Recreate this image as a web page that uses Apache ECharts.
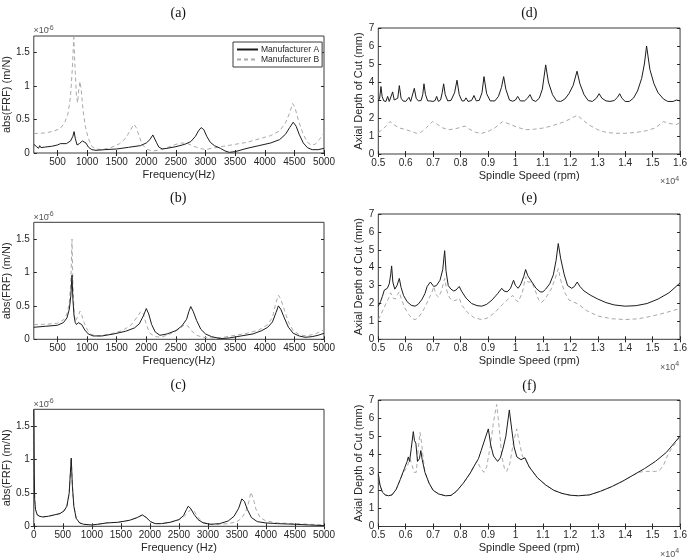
<!DOCTYPE html>
<html>
<head>
<meta charset="utf-8">
<script src="https://cdn.jsdelivr.net/npm/echarts@6/dist/echarts.min.js"></script>
<style>
html, body { margin: 0; padding: 0; background: #fff; }
#main { width: 690px; height: 558px; }
</style>
</head>
<body>
<div id="main"></div>
<script>
// FRF magnitude in units of 1e-6 m/N, points are [frequency Hz, value]
var frfA_a = [[100,0.13],[120,0.14],[140,0.10],[160,0.12],[180,0.07],[200,0.11],[220,0.08],[250,0.10],[300,0.09],[400,0.10],[500,0.12],[550,0.14],[650,0.14],[720,0.18],[760,0.25],[780,0.32],[800,0.22],[830,0.12],[870,0.14],[920,0.18],[950,0.19],[980,0.15],[1020,0.09],[1080,0.05],[1150,0.04],[1300,0.05],[1500,0.06],[1700,0.085],[1900,0.11],[2000,0.15],[2060,0.2],[2110,0.27],[2130,0.25],[2170,0.16],[2210,0.09],[2270,0.06],[2350,0.07],[2500,0.095],[2650,0.13],[2750,0.17],[2830,0.25],[2880,0.33],[2925,0.38],[2970,0.35],[3020,0.25],[3080,0.16],[3150,0.11],[3250,0.07],[3330,0.03],[3400,0.01],[3500,0.02],[3700,0.07],[3900,0.11],[4100,0.15],[4250,0.2],[4350,0.28],[4420,0.38],[4480,0.46],[4530,0.40],[4580,0.28],[4650,0.15],[4720,0.08],[4800,0.05],[4900,0.05],[5000,0.07]];
var frfB_a = [[100,0.29],[300,0.30],[450,0.33],[550,0.37],[620,0.45],[680,0.6],[720,0.85],[750,1.25],[775,1.73],[795,1.3],[820,0.85],[840,0.75],[860,0.95],[880,1.07],[900,0.95],[930,0.65],[970,0.4],[1020,0.22],[1080,0.1],[1150,0.06],[1250,0.05],[1400,0.08],[1550,0.14],[1650,0.22],[1730,0.34],[1790,0.43],[1830,0.38],[1880,0.25],[1930,0.13],[2000,0.06],[2100,0.03],[2200,0.04],[2350,0.08],[2500,0.13],[2600,0.15],[2700,0.14],[2800,0.1],[2900,0.07],[3000,0.05],[3100,0.07],[3300,0.1],[3500,0.13],[3700,0.16],[3900,0.21],[4100,0.26],[4250,0.33],[4350,0.45],[4420,0.6],[4470,0.74],[4510,0.68],[4570,0.48],[4650,0.28],[4720,0.16],[4780,0.12],[4850,0.13],[4920,0.2],[5000,0.3]];
var frfA_b = [[100,0.18],[300,0.195],[500,0.21],[600,0.25],[660,0.32],[700,0.45],[725,0.65],[745,0.96],[760,0.6],[780,0.35],[800,0.25],[820,0.22],[850,0.25],[875,0.26],[910,0.22],[960,0.14],[1020,0.08],[1100,0.05],[1250,0.05],[1450,0.08],[1650,0.12],[1800,0.17],[1880,0.23],[1950,0.35],[2000,0.46],[2040,0.38],[2090,0.22],[2150,0.11],[2230,0.06],[2350,0.08],[2500,0.13],[2600,0.2],[2680,0.3],[2720,0.42],[2750,0.49],[2790,0.42],[2850,0.28],[2920,0.15],[3000,0.08],[3100,0.04],[3250,0.01],[3400,0.02],[3600,0.05],[3800,0.08],[3950,0.13],[4050,0.18],[4130,0.26],[4190,0.4],[4230,0.5],[4270,0.45],[4330,0.32],[4400,0.18],[4480,0.09],[4580,0.05],[4680,0.03],[4800,0.04],[4900,0.06],[5000,0.09]];
var frfB_b = [[100,0.22],[300,0.225],[500,0.24],[600,0.29],[660,0.38],[700,0.55],[725,0.85],[745,1.5],[760,0.85],[780,0.4],[800,0.27],[825,0.26],[855,0.36],[880,0.42],[910,0.36],[950,0.25],[1010,0.13],[1080,0.07],[1200,0.05],[1400,0.08],[1600,0.13],[1750,0.22],[1850,0.34],[1910,0.42],[1950,0.38],[2000,0.22],[2060,0.09],[2150,0.04],[2250,0.03],[2400,0.08],[2550,0.15],[2650,0.22],[2700,0.2],[2760,0.13],[2850,0.06],[2950,0.03],[3100,0.02],[3300,0.03],[3500,0.06],[3700,0.09],[3900,0.14],[4050,0.22],[4130,0.33],[4190,0.55],[4230,0.66],[4270,0.6],[4330,0.44],[4400,0.26],[4480,0.13],[4580,0.07],[4700,0.05],[4850,0.08],[5000,0.14]];
var frfA_c = [[0,1.75],[8,0.8],[15,0.4],[30,0.25],[60,0.17],[100,0.15],[150,0.14],[250,0.15],[350,0.17],[450,0.19],[520,0.23],[570,0.3],[610,0.5],[645,1.02],[665,0.6],[690,0.3],[730,0.12],[790,0.05],[860,0.03],[1000,0.02],[1100,0.03],[1250,0.05],[1450,0.06],[1650,0.09],[1780,0.13],[1870,0.17],[1940,0.13],[2010,0.07],[2090,0.04],[2200,0.04],[2350,0.06],[2500,0.1],[2580,0.16],[2630,0.25],[2660,0.3],[2700,0.27],[2760,0.18],[2830,0.1],[2920,0.05],[3050,0.03],[3200,0.04],[3350,0.08],[3450,0.15],[3530,0.27],[3585,0.41],[3630,0.37],[3680,0.25],[3750,0.13],[3850,0.07],[4000,0.05],[4200,0.04],[4500,0.03],[4750,0.02],[5000,0.01]];
var frfB_c = [[0,1.75],[8,0.8],[15,0.4],[30,0.25],[60,0.17],[100,0.15],[150,0.14],[250,0.15],[350,0.17],[450,0.19],[520,0.23],[570,0.3],[610,0.5],[645,1.02],[665,0.6],[690,0.3],[730,0.12],[790,0.05],[860,0.03],[1000,0.02],[1100,0.03],[1250,0.05],[1450,0.06],[1650,0.09],[1780,0.13],[1870,0.17],[1940,0.13],[2010,0.07],[2090,0.04],[2200,0.04],[2350,0.06],[2500,0.1],[2580,0.14],[2650,0.2],[2700,0.25],[2730,0.27],[2770,0.22],[2830,0.13],[2920,0.06],[3050,0.03],[3200,0.03],[3350,0.04],[3500,0.07],[3580,0.12],[3650,0.22],[3700,0.35],[3740,0.51],[3780,0.42],[3830,0.25],[3900,0.13],[4000,0.08],[4200,0.05],[4500,0.04],[4750,0.03],[5000,0.02]];

// stability lobes, points are [spindle speed rpm, axial depth mm]
var lobeA_d = [[5000,2.95],[5050,3.1],[5097,3.75],[5140,3.2],[5200,2.95],[5280,2.92],[5340,3.2],[5400,2.92],[5470,2.95],[5523,3.45],[5580,3.0],[5650,2.92],[5710,3.1],[5766,3.8],[5830,3.1],[5900,2.95],[6000,2.92],[6070,2.95],[6118,3.15],[6180,2.92],[6250,2.98],[6313,3.65],[6380,3.1],[6460,2.95],[6560,2.97],[6620,3.3],[6665,3.9],[6720,3.3],[6800,2.95],[6880,2.95],[6930,3.0],[6990,2.92],[7070,2.97],[7127,3.2],[7190,2.92],[7270,3.0],[7330,3.4],[7382,3.9],[7440,3.3],[7530,2.95],[7650,2.98],[7780,3.4],[7869,4.1],[7950,3.3],[8050,2.95],[8130,2.95],[8197,3.12],[8270,2.92],[8400,2.97],[8488,3.25],[8570,2.95],[8680,2.98],[8780,3.4],[8853,4.3],[8950,3.35],[9080,2.95],[9250,2.95],[9380,3.2],[9490,3.7],[9570,4.3],[9650,3.6],[9780,3.0],[9900,2.93],[10000,3.0],[10081,3.2],[10180,2.95],[10330,2.95],[10440,3.1],[10530,3.3],[10620,3.0],[10740,2.92],[10870,3.1],[10980,3.6],[11102,4.95],[11200,4.0],[11350,3.3],[11500,2.95],[11650,2.92],[11800,3.05],[11950,3.35],[12100,3.8],[12244,4.6],[12350,3.9],[12500,3.3],[12650,2.97],[12800,2.92],[12950,3.1],[13050,3.35],[13150,3.1],[13300,2.95],[13450,2.92],[13600,2.97],[13720,3.15],[13800,3.35],[13880,3.1],[14000,2.92],[14150,2.92],[14300,3.1],[14450,3.5],[14600,4.2],[14700,5.0],[14780,6.0],[14900,4.7],[15050,3.9],[15200,3.4],[15400,3.05],[15550,2.92],[15750,2.92],[15870,3.0],[16000,2.95]];
var lobeB_d = [[5000,1.2],[5100,1.3],[5250,1.5],[5425,1.8],[5550,1.65],[5750,1.45],[5950,1.38],[6150,1.28],[6400,1.15],[6550,1.2],[6750,1.45],[6970,1.8],[7150,1.65],[7350,1.45],[7550,1.35],[7800,1.4],[8000,1.48],[8160,1.55],[8300,1.4],[8550,1.2],[8770,1.15],[9000,1.25],[9250,1.45],[9530,1.8],[9800,1.65],[10050,1.5],[10350,1.35],[10700,1.38],[11050,1.45],[11400,1.6],[11800,1.8],[12050,2.0],[12260,2.15],[12450,1.9],[12700,1.6],[13000,1.35],[13300,1.2],[13630,1.15],[14000,1.15],[14400,1.2],[14800,1.3],[15100,1.45],[15390,1.8],[15600,1.7],[15850,1.63],[16000,1.75]];
var lobeA_e = [[5000,1.85],[5080,2.1],[5150,2.4],[5220,2.75],[5270,2.7],[5330,2.85],[5400,3.1],[5450,3.6],[5486,4.1],[5530,3.2],[5600,2.8],[5680,3.0],[5766,3.4],[5830,2.9],[5920,2.45],[6050,2.1],[6200,1.9],[6337,1.85],[6450,1.95],[6580,2.2],[6700,2.55],[6780,2.95],[6830,2.85],[6900,3.2],[6960,3.15],[7020,2.95],[7120,3.0],[7250,3.3],[7350,3.9],[7419,4.95],[7470,3.8],[7550,3.0],[7650,2.8],[7750,2.7],[7830,2.75],[7950,2.95],[8050,2.65],[8200,2.3],[8400,2.0],[8600,1.88],[8770,1.85],[8950,1.95],[9150,2.2],[9350,2.55],[9500,2.85],[9580,2.7],[9700,2.65],[9820,2.85],[9930,3.3],[10000,3.0],[10100,2.85],[10200,3.1],[10300,3.5],[10370,3.9],[10450,3.55],[10600,3.2],[10750,2.85],[10900,2.65],[11000,2.65],[11100,2.8],[11250,3.1],[11380,3.6],[11480,4.4],[11560,5.35],[11650,4.5],[11780,3.6],[11900,3.0],[12050,2.85],[12150,2.95],[12250,3.2],[12350,2.95],[12500,2.7],[12750,2.45],[13000,2.25],[13300,2.05],[13600,1.92],[14000,1.85],[14400,1.88],[14800,2.0],[15200,2.25],[15600,2.6],[16000,3.15]];
var lobeB_e = [[5000,1.1],[5100,1.4],[5250,1.9],[5380,2.3],[5450,2.6],[5486,2.7],[5540,2.3],[5620,2.25],[5700,2.5],[5766,2.65],[5830,2.3],[5950,1.8],[6100,1.4],[6250,1.15],[6337,1.1],[6450,1.2],[6600,1.5],[6750,1.95],[6850,2.3],[6950,2.6],[7020,2.95],[7100,2.5],[7200,2.35],[7300,2.7],[7419,3.4],[7500,2.7],[7600,2.3],[7750,2.15],[7850,2.2],[7950,2.3],[8050,1.9],[8250,1.5],[8500,1.2],[8770,1.1],[9000,1.2],[9250,1.5],[9500,1.9],[9700,2.2],[9900,2.45],[10000,2.2],[10100,2.1],[10250,2.6],[10370,3.5],[10450,3.2],[10600,3.2],[10700,2.8],[10850,2.2],[10950,2.05],[11100,2.3],[11300,2.8],[11450,3.4],[11560,3.95],[11650,3.3],[11800,2.6],[11950,2.2],[12100,2.1],[12300,1.95],[12600,1.6],[13000,1.3],[13500,1.15],[14000,1.1],[14500,1.15],[15000,1.3],[15500,1.5],[16000,1.72]];
var lobeA_f = [[5000,2.9],[5060,2.3],[5150,1.9],[5250,1.75],[5370,1.7],[5500,1.75],[5650,2.05],[5800,2.6],[5950,3.2],[6050,3.6],[6094,3.85],[6140,3.6],[6200,4.3],[6276,5.25],[6320,4.75],[6370,4.6],[6430,3.6],[6500,3.75],[6550,4.2],[6600,3.7],[6700,3.0],[6850,2.4],[7000,2.0],[7200,1.8],[7450,1.7],[7650,1.72],[7850,1.95],[8100,2.4],[8350,2.95],[8550,3.5],[8650,3.75],[8750,4.2],[8900,4.9],[9011,5.4],[9100,4.5],[9200,3.9],[9350,3.6],[9450,3.8],[9560,4.4],[9650,5.0],[9777,6.45],[9870,5.3],[9950,4.4],[10050,3.85],[10200,3.7],[10348,3.8],[10500,3.3],[10800,2.7],[11100,2.3],[11400,2.0],[11700,1.83],[12000,1.73],[12300,1.7],[12700,1.75],[13100,1.95],[13500,2.2],[13900,2.5],[14300,2.85],[14700,3.2],[15100,3.6],[15500,4.1],[16000,5.0]];
var lobeB_f = [[5000,2.9],[5060,2.3],[5150,1.9],[5250,1.75],[5370,1.7],[5500,1.75],[5650,2.05],[5800,2.6],[5900,2.95],[5972,3.0],[6050,3.3],[6150,3.75],[6230,3.4],[6300,3.0],[6385,3.0],[6450,4.2],[6520,5.2],[6580,4.6],[6620,4.0],[6700,3.0],[6850,2.4],[7000,2.0],[7200,1.8],[7450,1.7],[7650,1.72],[7850,1.95],[8100,2.4],[8350,2.95],[8500,3.4],[8620,3.6],[8700,3.3],[8850,3.0],[8950,3.3],[9100,4.6],[9200,5.8],[9315,6.75],[9400,5.6],[9500,3.9],[9600,3.2],[9680,3.05],[9800,3.5],[9920,4.6],[10044,5.4],[10150,4.6],[10250,3.9],[10400,3.6],[10550,3.2],[10800,2.7],[11100,2.3],[11400,2.0],[11700,1.83],[12000,1.73],[12300,1.7],[12700,1.75],[13100,1.95],[13500,2.2],[13900,2.5],[14300,2.85],[14500,3.0],[14700,3.05],[14900,3.05],[15100,3.05],[15250,3.1],[15400,3.4],[15550,3.95],[15700,4.35],[15850,4.65],[16000,5.0]];

// tick values
var freqTicks = [500,1000,1500,2000,2500,3000,3500,4000,4500,5000];
var freqTicksC = [0,500,1000,1500,2000,2500,3000,3500,4000,4500,5000];
var frfTicks = [0,0.5,1,1.5];
var speedTicks = [5000,6000,7000,8000,9000,10000,11000,12000,13000,14000,15000,16000];
var depthTicks = [0,1,2,3,4,5,6,7];

var myChart = echarts.init(document.getElementById('main'));
var ink = '#262626';
var sans = 'Liberation Sans';

var panels = [
	{ box: [32.5, 36, 291.5, 117], x: [100, 5000], xt: freqTicks, y: 1.75, yt: frfTicks, xn: 'Frequency(Hz)', yn: 'abs(FRF) (m/N)', a: frfA_a, b: frfB_a, t: '(a)', ty: 13, frf: true },
	{ box: [32.5, 222.3, 291.5, 117], x: [100, 5000], xt: freqTicks, y: 1.75, yt: frfTicks, xn: 'Frequency(Hz)', yn: 'abs(FRF) (m/N)', a: frfA_b, b: frfB_b, t: '(b)', ty: 198, frf: true },
	{ box: [32.5, 409.3, 291.5, 117], x: [0, 5000], xt: freqTicksC, y: 1.75, yt: frfTicks, xn: 'Frequency (Hz)', yn: 'abs(FRF) (m/N)', a: frfA_c, b: frfB_c, t: '(c)', ty: 385, frf: true },
	{ box: [378.3, 28, 302, 126], x: [5000, 16000], xt: speedTicks, y: 7, yt: depthTicks, xn: 'Spindle Speed (rpm)', yn: 'Axial Depth of Cut (mm)', a: lobeA_d, b: lobeB_d, t: '(d)', ty: 13, frf: false },
	{ box: [378.3, 214, 302, 125.3], x: [5000, 16000], xt: speedTicks, y: 7, yt: depthTicks, xn: 'Spindle Speed (rpm)', yn: 'Axial Depth of Cut (mm)', a: lobeA_e, b: lobeB_e, t: '(e)', ty: 198, frf: false },
	{ box: [378.3, 400, 302, 126.5], x: [5000, 16000], xt: speedTicks, y: 7, yt: depthTicks, xn: 'Spindle Speed (rpm)', yn: 'Axial Depth of Cut (mm)', a: lobeA_f, b: lobeB_f, t: '(f)', ty: 386, frf: false }
];

var grids = [], xAxes = [], yAxes = [], series = [], texts = [];
var extraX = [], extraY = [];

panels.forEach(function (p, i) {
	grids.push({ left: p.box[0], top: p.box[1], width: p.box[2], height: p.box[3], show: true, borderColor: '#3a3a3a', borderWidth: 1 });
	var tick = { inside: true, length: 3, lineStyle: { color: ink, width: 1 } };
	xAxes.push({
		gridIndex: i, type: 'value', min: p.x[0], max: p.x[1], position: 'bottom',
		axisLine: { show: false },
		axisTick: Object.assign({ customValues: p.xt }, tick),
		axisLabel: {
			customValues: p.xt, color: ink, fontSize: 10, fontFamily: sans, margin: 4,
			formatter: p.frf
				? function (v) { return String(v); }
				: function (v) { return String(Number((v / 10000).toFixed(1))); }
		},
		splitLine: { show: false },
		name: p.xn, nameLocation: 'middle', nameGap: 16,
		nameTextStyle: { color: ink, fontSize: 11, fontFamily: sans }
	});
	extraX.push({
		gridIndex: i, type: 'value', min: p.x[0], max: p.x[1], position: 'top',
		axisLine: { show: false }, axisTick: Object.assign({ customValues: p.xt }, tick),
		axisLabel: { show: false }, splitLine: { show: false }
	});
	yAxes.push({
		gridIndex: i, type: 'value', min: 0, max: p.y, position: 'left',
		axisLine: { show: false },
		axisTick: Object.assign({ customValues: p.yt }, tick),
		axisLabel: { customValues: p.yt, color: ink, fontSize: 10, fontFamily: sans, margin: 4, formatter: function (v) { return String(v); } },
		splitLine: { show: false },
		name: p.yn, nameLocation: 'middle', nameGap: p.frf ? 18 : 11,
		nameTextStyle: { color: ink, fontSize: 11, fontFamily: sans }
	});
	extraY.push({
		gridIndex: i, type: 'value', min: 0, max: p.y, position: 'right',
		axisLine: { show: false }, axisTick: Object.assign({ customValues: p.yt }, tick),
		axisLabel: { show: false }, splitLine: { show: false }
	});
	series.push({
		type: 'line', name: 'Manufacturer B', xAxisIndex: i, yAxisIndex: i, data: p.b,
		symbol: 'none', silent: true, z: 2,
		lineStyle: { color: '#a9a9a9', width: 1, type: [4, 3] }, itemStyle: { color: '#a9a9a9' }
	});
	series.push({
		type: 'line', name: 'Manufacturer A', xAxisIndex: i, yAxisIndex: i, data: p.a,
		symbol: 'none', silent: true, z: 3,
		lineStyle: { color: '#1c1c1c', width: 1 }, itemStyle: { color: '#1c1c1c' }
	});
	// panel letter
	texts.push({
		type: 'text', x: p.box[0] + p.box[2] / 2, y: p.ty,
		style: { text: p.t, fontSize: 14, fontFamily: 'Liberation Serif', fill: '#111', align: 'center', verticalAlign: 'middle' }
	});
	// axis multiplier
	if (p.frf) {
		texts.push({ type: 'text', x: p.box[0] + 1, y: p.box[1] - 5, style: { text: '\u00d710', fontSize: 9, fontFamily: sans, fill: '#555', align: 'left', verticalAlign: 'middle' } });
		texts.push({ type: 'text', x: p.box[0] + 15, y: p.box[1] - 8, style: { text: '-6', fontSize: 7, fontFamily: sans, fill: '#555', align: 'left', verticalAlign: 'middle' } });
	} else {
		var bx = p.box[0] + p.box[2], by = p.box[1] + p.box[3] + 28;
		texts.push({ type: 'text', x: bx - 5, y: by, style: { text: '\u00d710', fontSize: 9, fontFamily: sans, fill: '#555', align: 'right', verticalAlign: 'middle' } });
		texts.push({ type: 'text', x: bx - 5, y: by - 3, style: { text: '4', fontSize: 7, fontFamily: sans, fill: '#555', align: 'left', verticalAlign: 'middle' } });
	}
});

option = {
	animation: false,
	backgroundColor: '#fff',
	grid: grids,
	xAxis: xAxes.concat(extraX),
	yAxis: yAxes.concat(extraY),
	legend: {
		data: ['Manufacturer A', 'Manufacturer B'],
		orient: 'vertical', left: 233, top: 42,
		padding: [3, 3, 3, 3], itemGap: 1, itemWidth: 21, itemHeight: 8,
		borderColor: '#3a3a3a', borderWidth: 1, backgroundColor: '#fff',
		selectedMode: false,
		itemStyle: { opacity: 0, borderWidth: 0 },
		textStyle: { fontSize: 8.5, fontFamily: sans, color: ink, padding: [0, 0, 0, -2] }
	},
	graphic: texts,
	series: series
};
myChart.setOption(option);
</script>
</body>
</html>
